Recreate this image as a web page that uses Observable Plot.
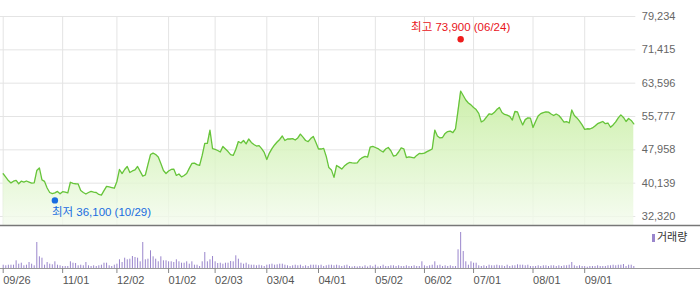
<!DOCTYPE html>
<html><head><meta charset="utf-8">
<script src="https://cdn.jsdelivr.net/npm/d3@7"></script>
<script src="https://cdn.jsdelivr.net/npm/@observablehq/plot@0.6"></script>
<style>
body{margin:0;background:#fff;}
#wrap{position:relative;width:700px;height:289px;font-family:"Liberation Sans","Noto Sans CJK KR",sans-serif;}
#wrap svg{display:block;}
#legend{position:absolute;left:652px;top:231px;font-size:11px;color:#333;line-height:12px;white-space:nowrap;}
#legend .sw{display:inline-block;width:3px;height:8px;background:#9a86cc;margin-right:2px;vertical-align:-1px;}
</style></head>
<body>
<div id="wrap"><div id="price"></div><div id="vol"></div><div id="legend"><span class="sw"></span>거래량</div></div>
<script>
// trading-day closes (index 0 = 09/26)
const close = [
42350,41550,40750,40200,40600,40800,40000,40600,40400,40650,
40400,40150,40200,43100,43700,40900,40550,39000,37950,37700,
37850,38200,37650,38150,38050,37850,40350,40100,40000,39950,
38400,37950,37600,37950,38200,38050,37950,37500,37350,38400,
39400,39250,39100,38950,40550,43350,42400,43350,44050,42650,
43000,43250,44050,42900,41800,42050,44500,46850,47200,46850,
46300,44750,43100,42400,43000,43350,43450,41950,42300,41600,
41950,42400,43600,44750,44850,44500,44300,46650,49450,49450,
52600,48250,48050,47800,47450,48750,48150,47550,46850,46650,
48050,49900,49550,50150,49350,50500,49700,49200,48850,48950,
48250,47350,45700,47200,48250,49100,49800,50400,51200,50150,
50500,50500,50600,50250,50750,51650,50950,50150,49900,50600,
51100,49700,48150,48150,48300,46400,43800,43250,41500,44300,
43900,43450,44150,44650,45000,44900,44850,44900,45700,46150,
46400,46250,48600,48750,48500,48250,47800,47450,48150,48500,
47750,46500,46650,47450,48400,48200,46150,46300,46200,46050,
46650,47100,47050,47200,47550,47850,48150,52600,51200,50750,
50850,51800,52250,52350,52000,52850,57200,61750,60700,59650,
58950,58500,57900,57400,56500,54500,54850,55650,56400,56250,
56700,57400,57900,56700,56250,56100,55800,54950,56950,56850,
55200,53800,55050,55450,55400,53200,54600,55900,56450,56700,
56850,56800,56350,56000,56350,56000,55300,54450,54600,54250,
57300,56000,55450,54700,53800,52750,52900,52850,53100,53550,
54100,54350,54600,54100,54250,53250,53800,54500,55450,56150,
55550,54600,55300,54850,54050
];
// volume (thousand shares)
const volume = [
330,270,330,330,330,770,430,530,270,330,
600,430,270,2600,1170,1030,330,600,430,370,
670,330,270,200,200,200,670,530,500,270,
330,270,600,270,200,270,200,270,330,530,
530,270,200,330,430,870,600,1030,870,930,
1200,1100,1030,670,2600,870,930,1770,1170,930,
670,1170,770,770,670,670,600,870,670,530,
530,670,430,670,330,330,200,670,1600,670,
870,1200,670,500,530,430,530,530,700,670,
1270,930,530,430,530,370,330,330,270,330,
270,200,330,370,430,330,370,430,430,330,
270,200,270,330,270,330,200,270,200,330,
330,330,270,330,200,270,330,330,270,330,
270,200,270,330,200,150,200,150,200,150,
270,150,270,170,330,150,200,330,200,200,
270,270,200,270,200,200,270,200,200,270,
200,200,670,270,200,270,330,670,270,330,
200,270,200,270,200,200,1870,3600,1700,670,
330,670,530,530,270,200,270,200,330,270,
270,330,270,270,200,330,200,270,270,370,
330,330,270,330,200,200,200,270,200,270,
270,200,270,270,200,270,200,270,270,330,
600,270,200,270,200,200,130,200,200,200,
270,200,200,200,270,270,330,270,330,330,
400,200,330,330,200
];
const tickIdx = [0,23,44,64,82,102,122,144,163,182,205,225];
const tickLabels = ["09/26","11/01","12/02","01/02","02/03","03/04","04/01","05/02","06/02","07/01","08/01","09/01"];
const yTicks = [32320,40139,47958,55777,63596,71415,79234];
const priceFloor = 30210;
const highPt = {i:177, v:73900, date:"06/24"};
const lowPt = {i:20, v:36100, date:"10/29"};

const fmt = d3.format(",");
const N = close.length;
const font = '"Liberation Sans","Noto Sans CJK KR",sans-serif';

const price = Plot.plot({
  width:700, height:226, marginTop:16, marginBottom:10, marginLeft:2.7, marginRight:66.7,
  style:{fontFamily:font, fontSize:"11px", background:"transparent", overflow:"visible"},
  x:{domain:[0,N-1], axis:null},
  y:{domain:[yTicks[0], yTicks[yTicks.length-1]], axis:null},
  marks:[
    Plot.ruleY(yTicks,{stroke:"#e4e4e4", insetLeft:-3, insetRight:-2}),
    Plot.ruleX(tickIdx,{stroke:"#e4e4e4", insetBottom:-9}),
    Plot.areaY(close,{x:(d,i)=>i, y1:priceFloor, y2:d=>d, fill:"url(#pg)"}),
    Plot.lineY(close,{x:(d,i)=>i, y:d=>d, stroke:"#66c43a", strokeWidth:1.3}),
    Plot.ruleY([priceFloor],{stroke:"#777", strokeWidth:1.6, insetLeft:-3, insetRight:-67}),
    Plot.dot([highPt],{x:"i", y:"v", r:3.2, fill:"#ee1c1c"}),
    Plot.text([highPt],{x:"i", y:"v", text:d=>`최고 ${fmt(d.v)} (${d.date})`, dy:-12, fill:"#e8141a", fontSize:11.5}),
    Plot.dot([lowPt],{x:"i", y:"v", r:3.2, fill:"#1a6de0"}),
    Plot.text([lowPt],{x:"i", y:"v", text:d=>`최저 ${fmt(d.v)} (${d.date})`, dy:12, dx:-3, textAnchor:"start", fill:"#1a6de0", fontSize:11.5}),
    Plot.axisY({anchor:"right", ticks:yTicks, tickFormat:fmt, tickSize:0, tickPadding:8, fill:"#666", fontSize:11, label:null})
  ]
});
const defs = d3.select(price).insert("defs",":first-child");
const gr = defs.append("linearGradient").attr("id","pg").attr("x1",0).attr("x2",0).attr("y1",0).attr("y2",1);
gr.append("stop").attr("offset","0%").attr("stop-color","#c4ec9c").attr("stop-opacity",0.85);
gr.append("stop").attr("offset","55%").attr("stop-color","#dcf5c6").attr("stop-opacity",0.8);
gr.append("stop").attr("offset","100%").attr("stop-color","#f4fbee").attr("stop-opacity",0.8);
document.getElementById("price").appendChild(price);

const vol = Plot.plot({
  width:700, height:63, marginTop:6, marginBottom:21, marginLeft:2.7, marginRight:66.7,
  style:{fontFamily:font, fontSize:"11px", background:"transparent", overflow:"visible"},
  x:{domain:[0,N-1], axis:null},
  y:{domain:[0,d3.max(volume)], axis:null},
  marks:[
    Plot.ruleY([0],{stroke:"#999", insetLeft:-3, insetRight:-67}),
    Plot.ruleX(volume,{x:(d,i)=>i, y1:0, y2:d=>d, stroke:"#9a86cc", strokeWidth:1}),
    Plot.axisX({ticks:tickIdx, tickFormat:d=>tickLabels[tickIdx.indexOf(d)], tickSize:5, tickPadding:3, textAnchor:"start", stroke:"#888", fill:"#555", fontSize:11, label:null})
  ]
});
document.getElementById("vol").appendChild(vol);
</script>
</body></html>
